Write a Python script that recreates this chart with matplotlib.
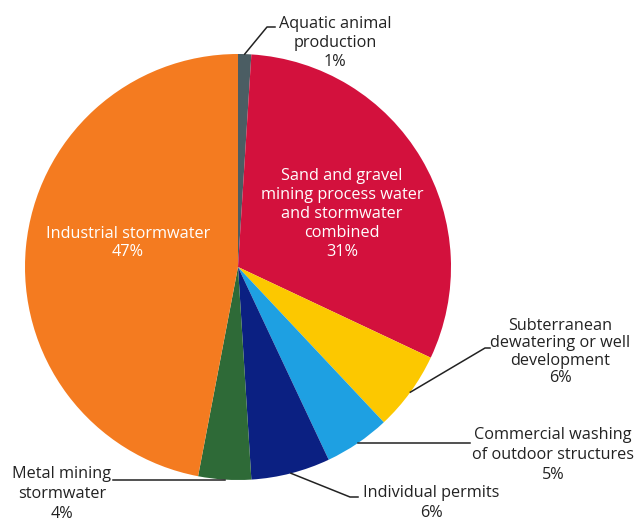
import numpy as np
import matplotlib.pyplot as plt

plt.rcParams['font.family'] = ['Open Sans', 'DejaVu Sans']

# shares, clockwise from 12 o'clock
categories = ["Aquatic animal\nproduction",
              "Sand and gravel\nmining process water\nand stormwater\ncombined",
              "Subterranean\ndewatering or well\ndevelopment",
              "Commercial washing\nof outdoor structures",
              "Individual permits",
              "Metal mining\nstormwater",
              "Industrial stormwater"]
shares = [1, 31, 6, 5, 6, 4, 47]
colors = ["#4b5d63", "#d3113d", "#fcc800", "#1ea0e2", "#0b2082", "#2e6a37", "#f47b20"]

W, H = 642, 523
fig = plt.figure(figsize=(W / 100, H / 100), dpi=100)
ax = fig.add_axes([0, 0, 1, 1])

cx, cy, r = 238, H - 267, 213
wedges, _ = ax.pie(shares, colors=colors, startangle=90, counterclock=False,
                   center=(cx, cy), radius=r, frame=True,
                   wedgeprops=dict(linewidth=0))
ax.set_xlim(0, W)
ax.set_ylim(0, H)
ax.set_aspect('equal')
ax.axis('off')

labels = [f"{c}\n{s}%" for c, s in zip(categories, shares)]
fs = 11.7

# labels inside the big slices: (x, y from top, line spacing)
inside = {1: (342, 214, 1.26), 6: (128, 243, 1.23)}
for i, (x, y, ls) in inside.items():
    ax.text(x, H - y, labels[i], ha='center', va='center', color='white',
            fontsize=fs, linespacing=ls)

# outside labels: text centre, line spacing, leader points after the slice edge
outside = {
    0: ((335, 43), 1.25, [(267, 27), (275, 27)]),
    2: ((560, 352), 1.13, [(485, 348), (490, 348)]),
    3: ((553, 455), 1.32, [(470, None)]),
    4: ((431, 503), 1.28, [(350, 497), (358, 497)]),
    5: ((62, 494), 1.3, [(113, None)]),
}
for i, (txt, ls, pts) in outside.items():
    w = wedges[i]
    ang = np.deg2rad((w.theta1 + w.theta2) / 2)
    sx, sy = cx + r * np.cos(ang), cy + r * np.sin(ang)
    xs, ys = [sx], [sy]
    for px, py in pts:
        xs.append(px)
        ys.append(sy if py is None else H - py)  # None -> horizontal leader
    ax.plot(xs, ys, color='#222222', lw=1.1)
    ax.text(txt[0], H - txt[1], labels[i], ha='center', va='center',
            color='#222222', fontsize=fs, linespacing=ls)

fig.savefig("out.png", dpi=100, facecolor='white')
